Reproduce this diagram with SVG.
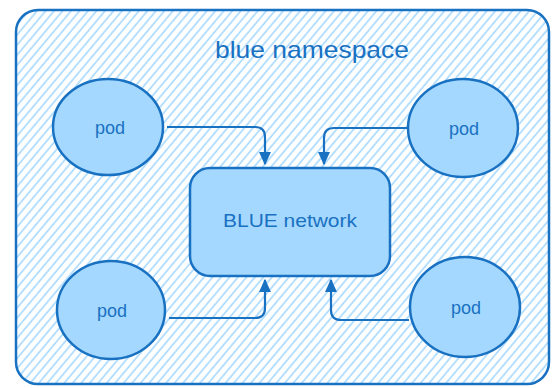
<svg xmlns="http://www.w3.org/2000/svg" width="552" height="388" viewBox="0 0 552 388">
<defs>
<pattern id="hatch" width="6.5" height="10" patternUnits="userSpaceOnUse" patternTransform="rotate(40)">
<line x1="3" y1="0" x2="3" y2="10" stroke="#a5d8ff" stroke-width="1.6"/>
</pattern>
<marker id="arr" viewBox="0 0 10 10" refX="9" refY="5" markerWidth="6" markerHeight="6" orient="auto" markerUnits="strokeWidth">
<path d="M0,0.5 L10,5 L0,9.5 Z" fill="#1971c2"/>
</marker>
</defs>
<style>
.shape{fill:#a5d8ff;stroke:#1971c2;stroke-width:2.5}
.lbl{font-family:"Liberation Sans",Arial,sans-serif;fill:#1971c2;text-anchor:middle}
.conn{fill:none;stroke:#1971c2;stroke-width:2.2;marker-end:url(#arr)}
</style>
<rect width="552" height="388" fill="#ffffff"/>
<g id="namespace">
<rect x="16" y="10" width="533" height="374" rx="22" fill="url(#hatch)" stroke="#1971c2" stroke-width="2.5"/>
<text class="lbl" x="312" y="58" font-size="24" textLength="194" lengthAdjust="spacingAndGlyphs">blue namespace</text>
</g>
<g id="network">
<rect class="shape" x="190" y="168" width="200" height="108" rx="20"/>
<text class="lbl" x="290" y="227" font-size="19" textLength="134" lengthAdjust="spacingAndGlyphs">BLUE network</text>
</g>
<g id="pod-tl">
<ellipse class="shape" cx="108" cy="127" rx="55" ry="48"/>
<text class="lbl" x="110" y="134" font-size="18">pod</text>
</g>
<g id="pod-tr">
<ellipse class="shape" cx="463" cy="128" rx="55" ry="49"/>
<text class="lbl" x="464" y="135" font-size="18">pod</text>
</g>
<g id="pod-bl">
<ellipse class="shape" cx="111" cy="310" rx="54" ry="49"/>
<text class="lbl" x="112" y="317" font-size="18">pod</text>
</g>
<g id="pod-br">
<ellipse class="shape" cx="465" cy="307" rx="55" ry="50"/>
<text class="lbl" x="466" y="314" font-size="18">pod</text>
</g>
<g id="connectors">
<path class="conn" d="M167,127 H255 Q265,127 265,137 V164"/>
<path class="conn" d="M407,128 H334 Q324,128 324,138 V164"/>
<path class="conn" d="M169,318 H255 Q265,318 265,308 V280"/>
<path class="conn" d="M409,320 H341 Q331,320 331,310 V280"/>
</g>
</svg>
